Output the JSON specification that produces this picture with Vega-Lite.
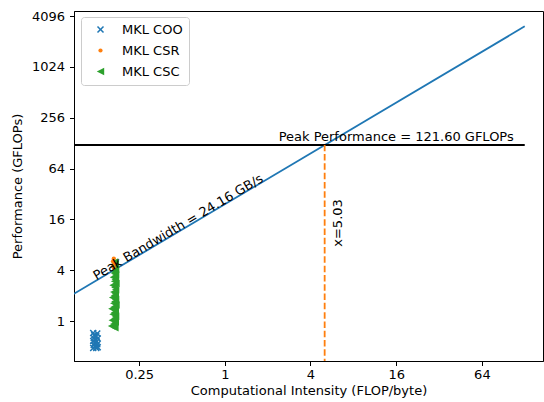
{
  "$schema": "https://vega.github.io/schema/vega-lite/v6.json",
  "width": 469,
  "height": 350,
  "autosize": {"type": "none"},
  "padding": {"left": 74, "top": 11, "right": 1, "bottom": 41},
  "background": "white",
  "config": {
    "font": "DejaVu Sans",
    "view": {"stroke": "black", "strokeWidth": 1},
    "axis": {
      "grid": false,
      "labelFont": "DejaVu Sans",
      "labelFontSize": 13,
      "labelColor": "black",
      "titleFont": "DejaVu Sans",
      "titleFontSize": 13,
      "titleFontWeight": "normal",
      "titleColor": "black",
      "tickColor": "black",
      "domainColor": "black",
      "tickSize": 4.5,
      "domain": true
    }
  },
  "datasets": {
    "points": [
      {"x": 0.119, "y": 0.72, "series": "MKL COO"},
      {"x": 0.127, "y": 0.71, "series": "MKL COO"},
      {"x": 0.121, "y": 0.68, "series": "MKL COO"},
      {"x": 0.125, "y": 0.66, "series": "MKL COO"},
      {"x": 0.120, "y": 0.63, "series": "MKL COO"},
      {"x": 0.128, "y": 0.62, "series": "MKL COO"},
      {"x": 0.123, "y": 0.60, "series": "MKL COO"},
      {"x": 0.119, "y": 0.58, "series": "MKL COO"},
      {"x": 0.126, "y": 0.57, "series": "MKL COO"},
      {"x": 0.122, "y": 0.55, "series": "MKL COO"},
      {"x": 0.127, "y": 0.53, "series": "MKL COO"},
      {"x": 0.120, "y": 0.52, "series": "MKL COO"},
      {"x": 0.124, "y": 0.50, "series": "MKL COO"},
      {"x": 0.128, "y": 0.49, "series": "MKL COO"},
      {"x": 0.119, "y": 0.48, "series": "MKL COO"},
      {"x": 0.125, "y": 0.48, "series": "MKL COO"},
      {"x": 0.168, "y": 5.0, "series": "MKL CSC"},
      {"x": 0.170, "y": 4.7, "series": "MKL CSC"},
      {"x": 0.166, "y": 4.4, "series": "MKL CSC"},
      {"x": 0.171, "y": 4.1, "series": "MKL CSC"},
      {"x": 0.169, "y": 3.9, "series": "MKL CSC"},
      {"x": 0.167, "y": 3.7, "series": "MKL CSC"},
      {"x": 0.171, "y": 3.5, "series": "MKL CSC"},
      {"x": 0.165, "y": 3.3, "series": "MKL CSC"},
      {"x": 0.170, "y": 3.1, "series": "MKL CSC"},
      {"x": 0.168, "y": 2.95, "series": "MKL CSC"},
      {"x": 0.172, "y": 2.8, "series": "MKL CSC"},
      {"x": 0.164, "y": 2.65, "series": "MKL CSC"},
      {"x": 0.169, "y": 2.5, "series": "MKL CSC"},
      {"x": 0.171, "y": 2.35, "series": "MKL CSC"},
      {"x": 0.166, "y": 2.2, "series": "MKL CSC"},
      {"x": 0.170, "y": 2.1, "series": "MKL CSC"},
      {"x": 0.168, "y": 2.0, "series": "MKL CSC"},
      {"x": 0.163, "y": 1.9, "series": "MKL CSC"},
      {"x": 0.171, "y": 1.8, "series": "MKL CSC"},
      {"x": 0.169, "y": 1.7, "series": "MKL CSC"},
      {"x": 0.166, "y": 1.62, "series": "MKL CSC"},
      {"x": 0.172, "y": 1.55, "series": "MKL CSC"},
      {"x": 0.167, "y": 1.47, "series": "MKL CSC"},
      {"x": 0.161, "y": 1.4, "series": "MKL CSC"},
      {"x": 0.170, "y": 1.33, "series": "MKL CSC"},
      {"x": 0.168, "y": 1.26, "series": "MKL CSC"},
      {"x": 0.164, "y": 1.2, "series": "MKL CSC"},
      {"x": 0.171, "y": 1.14, "series": "MKL CSC"},
      {"x": 0.169, "y": 1.08, "series": "MKL CSC"},
      {"x": 0.162, "y": 1.02, "series": "MKL CSC"},
      {"x": 0.170, "y": 0.97, "series": "MKL CSC"},
      {"x": 0.166, "y": 0.92, "series": "MKL CSC"},
      {"x": 0.160, "y": 0.87, "series": "MKL CSC"},
      {"x": 0.169, "y": 0.83, "series": "MKL CSC"},
      {"x": 0.166, "y": 5.5, "series": "MKL CSR"},
      {"x": 0.164, "y": 5.1, "series": "MKL CSR"},
      {"x": 0.167, "y": 4.8, "series": "MKL CSR"},
      {"x": 0.165, "y": 4.5, "series": "MKL CSR"},
      {"x": 0.166, "y": 4.3, "series": "MKL CSR"}
    ],
    "roof": [
      {"x": 0.05, "y": 1.208},
      {"x": 128, "y": 3092.48}
    ],
    "peak": [
      {"x": 0.05, "y": 121.6},
      {"x": 128, "y": 121.6}
    ]
  },
  "layer": [
    {
      "data": {"name": "roof"},
      "mark": {"type": "line", "color": "#1f77b4", "strokeWidth": 1.8, "clip": true},
      "encoding": {
        "x": {
          "field": "x", "type": "quantitative",
          "scale": {"type": "log", "base": 2, "domain": [0.0872, 172], "nice": false, "zero": false},
          "axis": {"values": [0.25, 1, 4, 16, 64], "format": "~g", "title": "Computational Intensity (FLOP/byte)", "labelPadding": 3, "titlePadding": 3, "labelFlush": false}
        },
        "y": {
          "field": "y", "type": "quantitative",
          "scale": {"type": "log", "base": 2, "domain": [0.336, 4700], "nice": false, "zero": false},
          "axis": {"values": [1, 4, 16, 64, 256, 1024, 4096], "format": "d", "title": "Performance (GFLOPs)", "labelPadding": 5, "titlePadding": 7, "labelFlush": false}
        }
      }
    },
    {
      "data": {"name": "peak"},
      "mark": {"type": "line", "color": "black", "strokeWidth": 1.8, "clip": true},
      "encoding": {
        "x": {"field": "x", "type": "quantitative"},
        "y": {"field": "y", "type": "quantitative"}
      }
    },
    {
      "data": {"values": [{"x": 5.03, "y": 0.3, "y2": 121.6}]},
      "mark": {"type": "rule", "color": "#ff7f0e", "strokeWidth": 1.8, "strokeDash": [6.5, 2.8], "clip": true},
      "encoding": {
        "x": {"field": "x", "type": "quantitative"},
        "y": {"field": "y", "type": "quantitative"},
        "y2": {"field": "y2"}
      }
    },
    {
      "data": {"name": "points"},
      "mark": {"type": "point", "filled": true, "opacity": 1, "strokeWidth": 0},
      "encoding": {
        "x": {"field": "x", "type": "quantitative"},
        "y": {"field": "y", "type": "quantitative"},
        "color": {
          "field": "series", "type": "nominal",
          "scale": {"domain": ["MKL COO", "MKL CSR", "MKL CSC"], "range": ["#1f77b4", "#ff7f0e", "#2ca02c"]},
          "legend": {"title": null, "orient": "none", "legendX": 7, "legendY": 6, "fillColor": "white", "strokeColor": "#cccccc", "cornerRadius": 3, "padding": 6, "labelFontSize": 13, "labelFont": "DejaVu Sans", "labelColor": "black", "rowPadding": 7, "symbolOffset": 7, "labelOffset": 15, "symbolStrokeWidth": 0, "symbolOpacity": 1}
        },
        "shape": {
          "field": "series", "type": "nominal",
          "scale": {"domain": ["MKL COO", "MKL CSR", "MKL CSC"], "range": ["M-1,-0.7L-0.7,-1L0,-0.3L0.7,-1L1,-0.7L0.3,0L1,0.7L0.7,1L0,0.3L-0.7,1L-1,0.7L-0.3,0Z", "circle", "M-1,0L1,-1L1,1Z"]},
          "legend": {"title": null, "orient": "none", "legendX": 7, "legendY": 6, "fillColor": "white", "strokeColor": "#cccccc", "cornerRadius": 3, "padding": 6, "labelFontSize": 13, "labelFont": "DejaVu Sans", "labelColor": "black", "rowPadding": 7, "symbolOffset": 7, "labelOffset": 15, "symbolStrokeWidth": 0, "symbolOpacity": 1}
        },
        "size": {
          "field": "series", "type": "nominal",
          "scale": {"type": "ordinal", "domain": ["MKL COO", "MKL CSR", "MKL CSC"], "range": [50, 18, 55]},
          "legend": {"title": null, "orient": "none", "legendX": 7, "legendY": 6, "fillColor": "white", "strokeColor": "#cccccc", "cornerRadius": 3, "padding": 6, "labelFontSize": 13, "labelFont": "DejaVu Sans", "labelColor": "black", "rowPadding": 7, "symbolOffset": 7, "labelOffset": 15, "symbolStrokeWidth": 0, "symbolOpacity": 1}
        }
      }
    },
    {
      "data": {"values": [{"x": 16, "y": 121.6, "label": "Peak Performance = 121.60 GFLOPs"}]},
      "mark": {"type": "text", "align": "center", "baseline": "alphabetic", "dy": -3.5, "fontSize": 13, "font": "DejaVu Sans", "color": "black"},
      "encoding": {
        "x": {"field": "x", "type": "quantitative"},
        "y": {"field": "y", "type": "quantitative"},
        "text": {"field": "label"}
      }
    },
    {
      "data": {"values": [{"x": 0.486, "y": 11.74, "label": "Peak Bandwidth = 24.16 GB/s"}]},
      "mark": {"type": "text", "align": "center", "baseline": "alphabetic", "angle": -30.7, "fontSize": 13, "font": "DejaVu Sans", "color": "black"},
      "encoding": {
        "x": {"field": "x", "type": "quantitative"},
        "y": {"field": "y", "type": "quantitative"},
        "text": {"field": "label"}
      }
    },
    {
      "data": {"values": [{"x": 6.24, "y": 14.5, "label": "x=5.03"}]},
      "mark": {"type": "text", "align": "center", "baseline": "middle", "angle": -90, "fontSize": 13, "font": "DejaVu Sans", "color": "black"},
      "encoding": {
        "x": {"field": "x", "type": "quantitative"},
        "y": {"field": "y", "type": "quantitative"},
        "text": {"field": "label"}
      }
    }
  ]
}
